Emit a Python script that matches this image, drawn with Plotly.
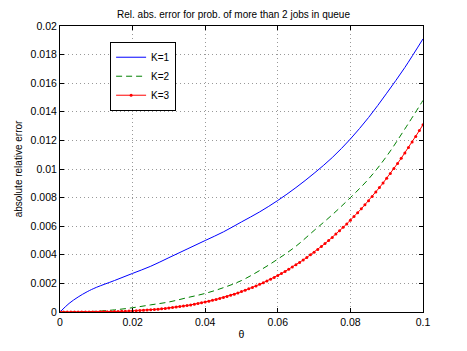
import plotly.graph_objects as go

# values
theta_k1 = [0, 0.0025, 0.005, 0.0075, 0.01, 0.015, 0.02, 0.025, 0.03, 0.035, 0.04,
            0.045, 0.05, 0.055, 0.06, 0.065, 0.07, 0.075, 0.08, 0.085, 0.09, 0.095, 0.1]
err_k1 = [0, 0.0006, 0.00105, 0.00142, 0.00172, 0.0022, 0.0027, 0.0032, 0.0038, 0.0044, 0.0050,
          0.0056, 0.0063, 0.0070, 0.0078, 0.0087, 0.0097, 0.0108, 0.0121, 0.0136, 0.0153, 0.0171, 0.0191]

theta_k2 = [0, 0.005, 0.01, 0.015, 0.02, 0.025, 0.03, 0.035, 0.04, 0.045, 0.05,
            0.055, 0.06, 0.065, 0.07, 0.075, 0.08, 0.085, 0.09, 0.095, 0.1]
err_k2 = [0, 0.00001, 0.00005, 0.00015, 0.0003, 0.0005, 0.0007, 0.0010, 0.0013, 0.0017, 0.0022,
          0.0029, 0.0037, 0.0046, 0.0057, 0.0068, 0.0080, 0.0093, 0.0109, 0.0128, 0.0148]

# K=3 is drawn with a marker at every 0.001 step
theta_k3 = [i / 1000 for i in range(101)]
err_k3 = [0, 0, 0, 0, 0, 0.000001, 0.000002, 0.000003, 0.000004, 0.000006,
          0.000008, 0.000011, 0.000015, 0.000019, 0.000024, 0.00003, 0.000037, 0.000045, 0.000054, 0.000065,
          0.000076, 0.000089, 0.000103, 0.000119, 0.000136, 0.000155, 0.000176, 0.000199, 0.000223, 0.00025,
          0.000278, 0.000309, 0.000342, 0.000377, 0.000415, 0.000455, 0.000498, 0.000544, 0.000592, 0.000643,
          0.000698, 0.000756, 0.000816, 0.00088, 0.000947, 0.001017, 0.001092, 0.00117, 0.00125, 0.001336,
          0.001426, 0.001519, 0.001618, 0.001718, 0.001824, 0.001933, 0.00205, 0.002169, 0.002293, 0.002421,
          0.002555, 0.002694, 0.002838, 0.002987, 0.003142, 0.003299, 0.003465, 0.003637, 0.003814, 0.003998,
          0.004183, 0.004379, 0.004577, 0.004785, 0.005, 0.005218, 0.005446, 0.005676, 0.005918, 0.006162,
          0.006412, 0.006677, 0.006942, 0.007213, 0.007501, 0.007788, 0.008083, 0.008393, 0.008704, 0.009023,
          0.009349, 0.009685, 0.010027, 0.01039, 0.01075, 0.011119, 0.011498, 0.011884, 0.01228, 0.012685,
          0.0131]

x_ticks = [0, 0.02, 0.04, 0.06, 0.08, 0.1]
x_labels = ['0', '0.02', '0.04', '0.06', '0.08', '0.1']
y_ticks = [0, 0.002, 0.004, 0.006, 0.008, 0.01, 0.012, 0.014, 0.016, 0.018, 0.02]
y_labels = ['0', '0.002', '0.004', '0.006', '0.008', '0.01', '0.012', '0.014', '0.016', '0.018', '0.02']

fig = go.Figure()
fig.add_trace(go.Scatter(
    x=theta_k1, y=err_k1, mode='lines', name='K=1',
    line=dict(color='#0000ff', width=1, shape='spline')
))
fig.add_trace(go.Scatter(
    x=theta_k2, y=err_k2, mode='lines', name='K=2',
    line=dict(color='#008000', width=1, dash='6px,4px', shape='spline')
))
fig.add_trace(go.Scatter(
    x=theta_k3, y=err_k3, mode='lines+markers', name='K=3',
    line=dict(color='#ff0000', width=1),
    marker=dict(color='#ff0000', size=3)
))

axis_style = dict(
    showline=True, linecolor='black', linewidth=1, mirror='ticks',
    ticks='inside', ticklen=4, tickcolor='black',
    showgrid=True, gridcolor='#999999', griddash='1px,3px', gridwidth=1,
    zeroline=False, tickfont=dict(size=10.5, color='black'),
    automargin=False,
)

# the page body adds an 8px margin, so the figure is a bit smaller than the window
fig.update_layout(
    width=451, height=335,
    margin=dict(l=52, r=36, t=18, b=31),
    paper_bgcolor='white', plot_bgcolor='white',
    font=dict(family='Liberation Sans, Arial, sans-serif', size=10.5, color='black'),
    title=dict(text='Rel. abs. error for prob. of more than 2 jobs in queue',
               x=0.5, xanchor='center', y=0.982, yanchor='middle',
               font=dict(size=10)),
    legend=dict(x=0.138, y=0.945, xanchor='left', yanchor='top',
                bordercolor='black', borderwidth=1, bgcolor='white',
                font=dict(size=10), itemwidth=30, tracegroupgap=0),
)
fig.update_xaxes(range=[0, 0.1], tickvals=x_ticks, ticktext=x_labels,
                 title=dict(text='θ', standoff=4, font=dict(size=10.5)), **axis_style)
fig.update_yaxes(range=[0, 0.02], tickvals=y_ticks, ticktext=y_labels,
                 title=dict(text='absolute relative error', standoff=6, font=dict(size=10)),
                 **axis_style)

fig.write_html("out.html")
